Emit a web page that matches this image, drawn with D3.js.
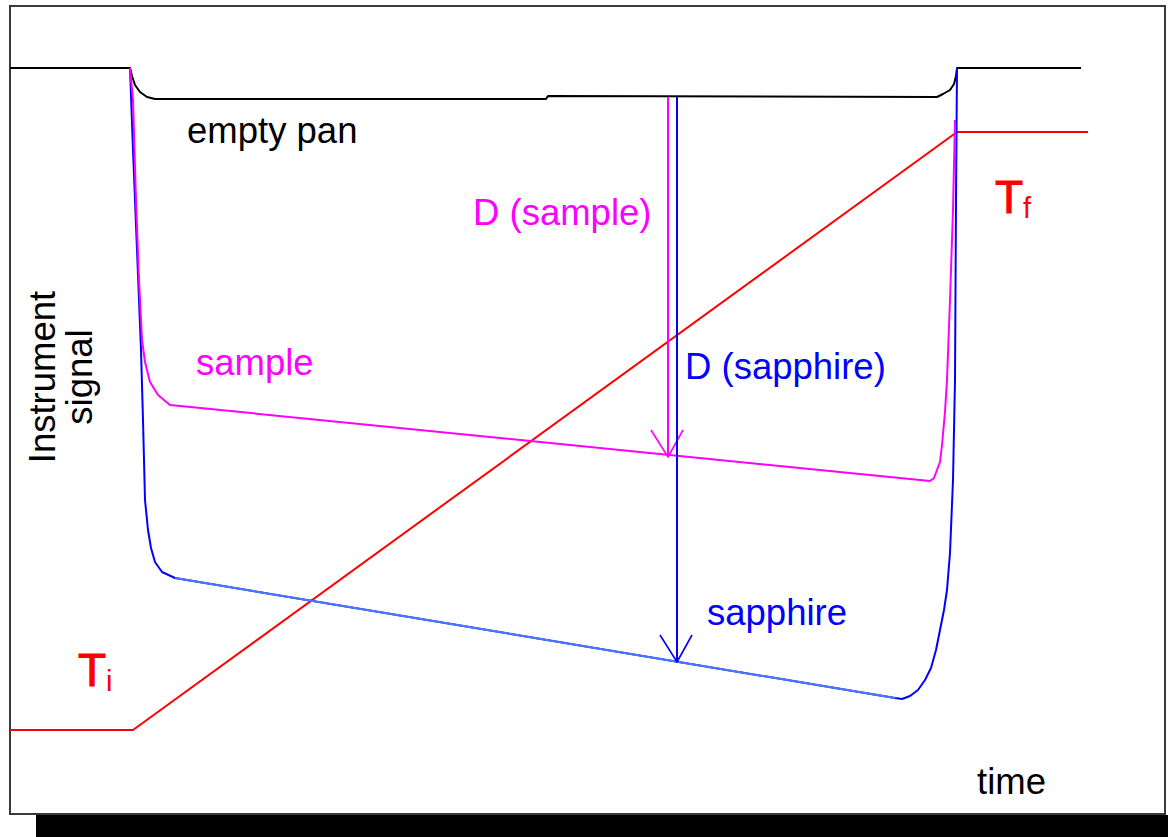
<!DOCTYPE html>
<html>
<head>
<meta charset="utf-8">
<script src="https://cdn.jsdelivr.net/npm/d3@7"></script>
<style>
  html, body { margin: 0; padding: 0; background: #fff; }
  svg { display: block; }
  text { font-family: "Liberation Sans", Arial, sans-serif; }
</style>
</head>
<body>
<svg id="chart" width="1168" height="837"></svg>
<script>
// time / signal values (arbitrary units)
const emptyPan = [
  [0, 74.7], [12, 74.7], [12.2, 73.9], [12.5, 73], [13, 72.3], [13.7, 71.8], [14.5, 71.6],
  [53.6, 71.6], [53.8, 71.9], [92.7, 71.8], [93.3, 72.1], [94, 72.5], [94.4, 73.1],
  [94.6, 73.9], [94.7, 74.7], [107.1, 74.7]
];
const sample = [
  [12, 74.7], [12.3, 71.5], [12.6, 61.5], [12.9, 53.5], [13.2, 47.5], [13.5, 45.3], [14, 43.3],
  [14.8, 42], [16, 41], [92, 33.4], [92.4, 33.7], [92.7, 34.5], [93, 35.3], [93.2, 37],
  [93.5, 40.3], [93.7, 43.5], [94, 51.5], [94.3, 60.5], [94.5, 69.5]
];
const sapphire = [
  [12, 74.7], [12.3, 66.5], [12.7, 56.5], [13.1, 46.5], [13.3, 39.5], [13.5, 31.5], [13.8, 28.5],
  [14.1, 26.7], [14.5, 25.3], [15.2, 24.3], [16.5, 23.7], [88.5, 11.7], [89.2, 11.6], [90, 11.9],
  [90.8, 12.5], [91.5, 13.5], [92.1, 14.7], [92.6, 16.5], [93, 18.5], [93.4, 20.5], [93.7, 22.5],
  [94, 26.2], [94.3, 33.5], [94.5, 43.5], [94.6, 61.5], [94.7, 74.7]
];
const temperature = [[0, 8.5], [12.3, 8.5], [94.7, 68.3], [107.8, 68.3]];

// D arrows: time, from signal, to signal
const deltas = [
  { t: 65.8, from: 71.8, to: 35.8, color: '#ff00ff' },
  { t: 66.7, from: 71.8, to: 15.3, color: '#0000ff' }
];

const labels = [
  { text: 'empty pan', t: 17.7, s: 67.2, color: '#000' },
  { text: 'D (sample)', t: 46.3, s: 59, color: '#ff00ff' },
  { text: 'sample', t: 18.6, s: 44, color: '#ff00ff' },
  { text: 'D (sapphire)', t: 67.5, s: 43.6, color: '#0000ff' },
  { text: 'sapphire', t: 69.7, s: 19, color: '#0000ff' },
  { text: 'time', t: 96.7, s: 2.1, color: '#000' }
];
const tempLabels = [
  { main: 'T', sub: 'i', t: 6.8, s: 12.9 },
  { main: 'T', sub: 'f', t: 98.5, s: 60.2 }
];

const svg = d3.select('#chart');
const x = d3.scaleLinear().domain([0, 115.5]).range([10, 1165]);
const y = d3.scaleLinear().domain([0, 81]).range([815, 5]);
const line = d3.line().x(d => x(d[0])).y(d => y(d[1]));

// frame + shadow
svg.append('rect').attr('x', 36).attr('y', 815).attr('width', 1132).attr('height', 22).attr('fill', '#000');
svg.append('rect').attr('x', 10).attr('y', 6).attr('width', 1155).attr('height', 808)
  .attr('fill', '#fff').attr('stroke', '#3a3a3a').attr('stroke-width', 2);

const g = svg.append('g').attr('fill', 'none').attr('stroke-width', 2).attr('stroke-linejoin', 'round');

g.append('path').datum(temperature).attr('d', line).attr('stroke', '#ff0000');
g.append('path').datum(emptyPan).attr('d', line).attr('stroke', '#000');
g.append('path').datum(sapphire).attr('d', line).attr('stroke', '#0000ff');
// the sloped part of the sapphire trace is a lighter blue
g.append('path').datum(sapphire.slice(10, 12)).attr('d', line).attr('stroke', '#4a78ff');
g.append('path').datum(sample).attr('d', line).attr('stroke', '#ff00ff');

// arrows
deltas.forEach(a => {
  const ax = x(a.t), y0 = y(a.from), y1 = y(a.to);
  g.append('line').attr('x1', ax).attr('x2', ax).attr('y1', y0).attr('y2', y1)
    .attr('stroke', a.color).attr('stroke-width', 2);
  g.append('path')
    .attr('d', `M${ax - 17},${y1 - 27}L${ax},${y1}L${ax + 15},${y1 - 27}`)
    .attr('stroke', a.color).attr('stroke-width', 1.6);
});

// text labels
svg.selectAll('text.lbl').data(labels).enter().append('text')
  .attr('class', 'lbl')
  .attr('x', d => x(d.t))
  .attr('y', d => y(d.s))
  .attr('fill', d => d.color)
  .attr('font-size', 36.5)
  .text(d => d.text);

tempLabels.forEach(d => {
  const t = svg.append('text').attr('x', x(d.t)).attr('y', y(d.s)).attr('fill', '#ff0000');
  t.append('tspan').attr('font-size', 46).attr('stroke', '#ff0000').attr('stroke-width', 1).text(d.main);
  t.append('tspan').attr('font-size', 29).attr('dy', 5).text(d.sub);
});

// y axis title
const yt = svg.append('text')
  .attr('transform', 'translate(55,377) rotate(-90)')
  .attr('text-anchor', 'middle')
  .attr('font-size', 36.5)
  .attr('fill', '#000');
yt.append('tspan').attr('x', 0).attr('y', 0).text('Instrument');
yt.append('tspan').attr('x', 0).attr('y', 37).text('signal');
</script>
</body>
</html>
